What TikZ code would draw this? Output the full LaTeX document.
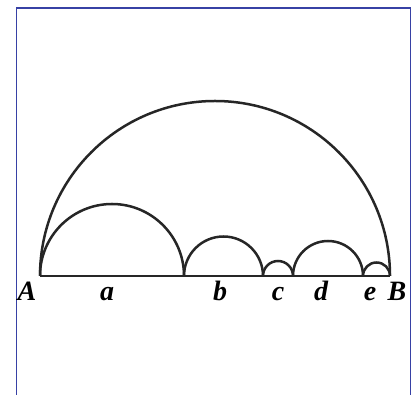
\documentclass[tikz,border=0pt]{standalone}
\usepackage{fontspec}
\setmainfont{Liberation Serif}
\begin{document}
\begin{tikzpicture}[x=1pt,y=1pt,
  arcline/.style={line width=2.5pt,black!85},
  lbl/.style={anchor=base,inner sep=0pt,font={\fontsize{28}{28}\selectfont\bfseries\itshape}}]
\useasboundingbox (0,0) rectangle (420,395);
\draw[line width=1.8pt,color={rgb,255:red,55;green,65;blue,165}] (16.5,0) -- (16.5,387) -- (410.5,387) -- (410.5,0);
\coordinate (A) at (40,119);
\coordinate (P1) at (184,119);
\coordinate (P2) at (263,119);
\coordinate (P3) at (293,119);
\coordinate (P4) at (363,119);
\coordinate (B) at (390,119);
\draw[arcline] (A) -- (B);
\draw[arcline] (A) arc[start angle=180,end angle=0,radius=175];
\draw[arcline] (A) arc[start angle=180,end angle=0,radius=72];
\draw[arcline] (P1) arc[start angle=180,end angle=0,radius=39.5];
\draw[arcline] (P2) arc[start angle=180,end angle=0,radius=15];
\draw[arcline] (P3) arc[start angle=180,end angle=0,radius=35];
\draw[arcline] (P4) arc[start angle=180,end angle=0,radius=13.5];
\node[lbl] (lA) at (27,94) {A};
\node[lbl] (la) at (107,94) {a};
\node[lbl] (lb) at (220,94) {b};
\node[lbl] (lc) at (278,94) {c};
\node[lbl] (ld) at (321,94) {d};
\node[lbl] (le) at (370,94) {e};
\node[lbl] (lB) at (397,94) {B};
\end{tikzpicture}
\end{document}
